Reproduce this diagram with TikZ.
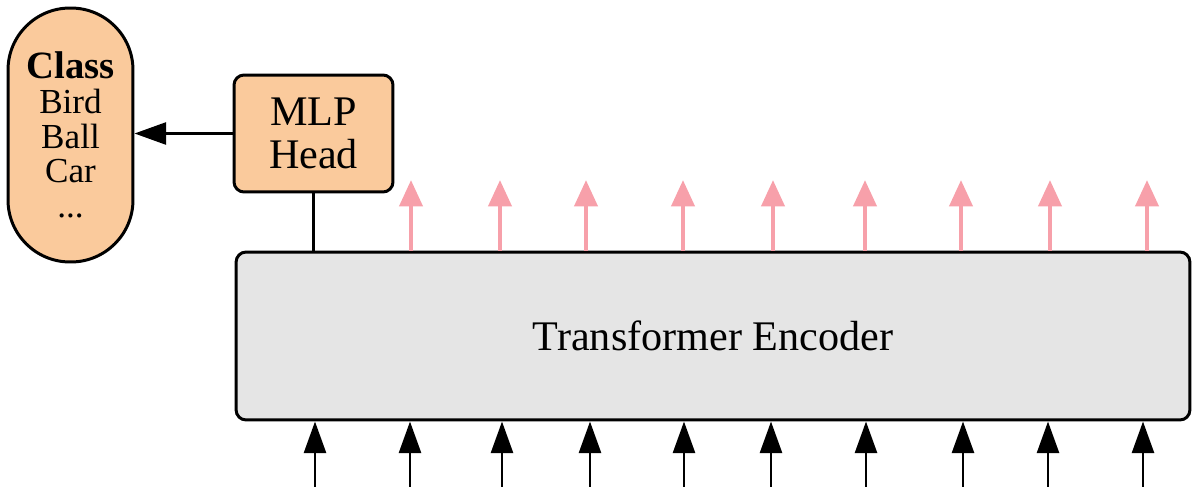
\documentclass[tikz,border=0pt]{standalone}
\usepackage{fontspec}
\setmainfont{Liberation Serif}
\usetikzlibrary{arrows.meta}
\definecolor{peach}{RGB}{250,202,156}
\definecolor{encgray}{RGB}{229,229,229}
\definecolor{pinkarrow}{RGB}{247,160,170}
\begin{document}
\begin{tikzpicture}[x=0.02cm,y=-0.02cm,
  box/.style={draw=black, line width=1.7pt, align=center, inner sep=0pt},
  peachbox/.style={box, fill=peach, rounded corners=0.2cm},
  classbox/.style={box, fill=peach, rounded corners=1.24cm, minimum width=2.5cm, minimum height=5.08cm,
     font=\fontsize{20}{19.8}\selectfont},
  encbox/.style={box, fill=encgray, rounded corners=0.2cm, minimum width=19.08cm, minimum height=3.36cm,
     font=\fontsize{24}{24}\selectfont},
  inarrow/.style={line width=1.6pt, -{Triangle[length=18pt,width=12.5pt]}},
  outarrow/.style={pinkarrow, line width=2.5pt, -{Triangle[length=15pt,width=13pt]}},
  conn/.style={line width=1.6pt}]
\useasboundingbox (0,0) rectangle (1198,487);

\node[classbox] (cls) at (70.5,135) {{\fontsize{22}{19.8}\selectfont\bfseries Class}\\Bird\\Ball\\Car\\...};
\node[peachbox, minimum width=3.18cm, minimum height=2.34cm,
      font=\fontsize{24}{24.4}\selectfont] (mlp) at (313.5,133.5) {MLP\\Head};
\node[encbox] (enc) at (713,336) {Transformer Encoder};

\draw[inarrow] (mlp.west) -- (mlp.west -| cls.east);
\draw[conn] (mlp.south) -- (mlp.south |- enc.north);

\foreach \i/\x in {1/411,2/500,3/586,4/683,5/773,6/865,7/961,8/1050,9/1147}{
  \coordinate (out\i) at (\x,180);
  \draw[outarrow] (out\i |- enc.north) -- (out\i);
}
\foreach \i/\x in {1/315,2/410,3/502,4/590,5/684,6/771,7/866,8/963,9/1048,10/1143}{
  \coordinate (in\i) at (\x,487);
  \draw[inarrow] (in\i) -- (in\i |- enc.south);
}
\end{tikzpicture}
\end{document}
